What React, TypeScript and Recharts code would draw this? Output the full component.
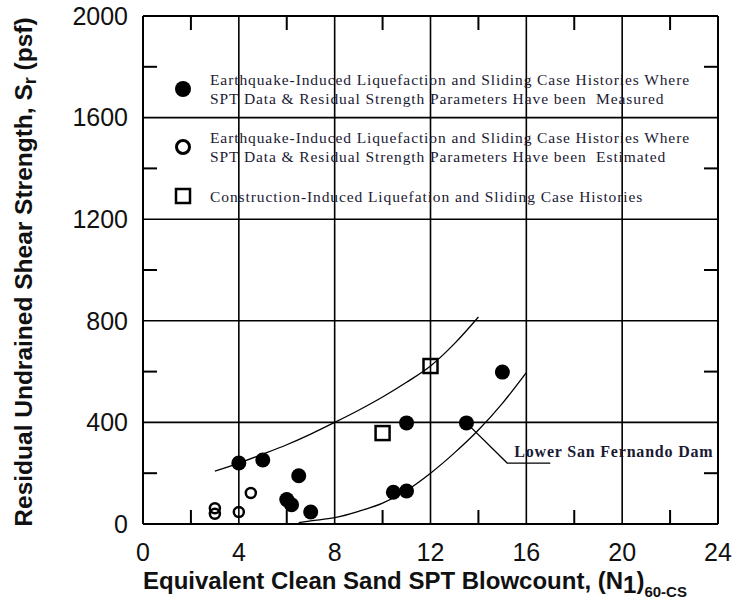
import React from 'react';
import {
  ComposedChart,
  Scatter,
  Line,
  XAxis,
  YAxis,
  Legend,
  ReferenceDot,
  ReferenceLine,
  Label,
} from 'recharts';

// (N1)60-CS blowcount vs residual strength Sr (psf)
const measured = [
  { x: 4, y: 240 },
  { x: 5, y: 252 },
  { x: 6.5, y: 190 },
  { x: 6, y: 96 },
  { x: 6.2, y: 76 },
  { x: 7, y: 47 },
  { x: 10.45, y: 125 },
  { x: 11, y: 130 },
  { x: 11, y: 398 },
  { x: 13.5, y: 398 },
  { x: 15, y: 598 },
];

const estimated = [
  { x: 3, y: 62 },
  { x: 3, y: 40 },
  { x: 4, y: 47 },
  { x: 4.5, y: 122 },
];

const construction = [
  { x: 10, y: 358 },
  { x: 12, y: 622 },
];

const upperBound = [
  { x: 3, y: 208 },
  { x: 4, y: 240 },
  { x: 5, y: 275 },
  { x: 6, y: 312 },
  { x: 7, y: 354 },
  { x: 8, y: 400 },
  { x: 9, y: 448 },
  { x: 10, y: 500 },
  { x: 11, y: 558 },
  { x: 12, y: 622 },
  { x: 13, y: 710 },
  { x: 14, y: 815 },
];

const lowerBound = [
  { x: 6.5, y: 5 },
  { x: 7, y: 12 },
  { x: 8, y: 25 },
  { x: 9, y: 50 },
  { x: 10, y: 82 },
  { x: 11, y: 132 },
  { x: 12, y: 200 },
  { x: 13, y: 280 },
  { x: 14, y: 370 },
  { x: 15, y: 475 },
  { x: 16, y: 596 },
];

const damLeader = [
  { x: 13.5, y: 398 },
  { x: 15.2, y: 240 },
  { x: 17, y: 240 },
];
const damNote = { x: 15.5, y: 262, text: 'Lower San Fernando Dam' };

const X_MIN = 0;
const X_MAX = 24;
const Y_MIN = 0;
const Y_MAX = 2000;
const majorX = [0, 4, 8, 12, 16, 20, 24];
const minorX = [2, 6, 10, 14, 18, 22];
const majorY = [0, 400, 800, 1200, 1600, 2000];
const minorY = [200, 600, 1000, 1400, 1800];

const legendItems = [
  {
    kind: 'filled',
    lines: [
      'Earthquake-Induced Liquefaction and Sliding Case Histories Where',
      'SPT Data & Residual Strength Parameters Have been  Measured',
    ],
  },
  {
    kind: 'open',
    lines: [
      'Earthquake-Induced Liquefaction and Sliding Case Histories Where',
      'SPT Data & Residual Strength Parameters Have been  Estimated',
    ],
  },
  {
    kind: 'square',
    lines: ['Construction-Induced Liquefation and Sliding Case Histories'],
  },
];

const sans = '"Liberation Sans", Arial, sans-serif';
const serif = '"Liberation Serif", "Times New Roman", serif';
const ink = '#1a1a33';

// chart box
const CHART_W = 732;
const CHART_H = 602;
const margin = { top: 16, right: 14, left: 0, bottom: 0 };
const Y_AXIS_W = 143;
const X_AXIS_H = 78;
const PLOT_W = CHART_W - Y_AXIS_W - margin.right;
const PLOT_H = CHART_H - margin.top - X_AXIS_H;

// inward tick marks, 14px long, expressed in axis units
const TICK_LEN = 14;
const TICK_DX = ((X_MAX - X_MIN) * TICK_LEN) / PLOT_W;
const TICK_DY = ((Y_MAX - Y_MIN) * TICK_LEN) / PLOT_H;
const tickStroke = { stroke: '#000', strokeWidth: 2 };

const FilledDot = (p: any) => <circle cx={p.cx} cy={p.cy} r={7.5} fill="#000" />;
const OpenDot = (p: any) => (
  <circle cx={p.cx} cy={p.cy} r={5} fill="none" stroke="#000" strokeWidth={2.5} />
);
const SquareDot = (p: any) => (
  <rect x={p.cx - 7} y={p.cy - 7} width={14} height={14} fill="none" stroke="#000" strokeWidth={2.5} />
);

const LegendMarker = ({ kind }: { kind: string }) => (
  <svg width={24} height={20} style={{ flex: 'none', marginRight: 15 }}>
    {kind === 'filled' && <circle cx={12} cy={10} r={8} fill="#000" />}
    {kind === 'open' && <circle cx={12} cy={10} r={6.5} fill="none" stroke="#000" strokeWidth={3} />}
    {kind === 'square' && <rect x={5} y={3} width={14} height={14} fill="none" stroke="#000" strokeWidth={2.5} />}
  </svg>
);

const renderLegend = () => (
  <div style={{ fontFamily: serif, fontSize: 15.5, lineHeight: '19px', color: ink, letterSpacing: 0.9 }}>
    {legendItems.map((item) => (
      <div key={item.lines[0] + item.kind} style={{ display: 'flex', alignItems: 'center', marginBottom: 20 }}>
        <LegendMarker kind={item.kind} />
        <div style={{ whiteSpace: 'pre' }}>
          {item.lines.map((l) => (
            <div key={l}>{l}</div>
          ))}
        </div>
      </div>
    ))}
  </div>
);

const YTitle = ({ viewBox }: any) => {
  const x = viewBox.x + 32;
  const y = viewBox.y + viewBox.height / 2 + 2;
  return (
    <text
      x={x}
      y={y}
      transform={`rotate(-90, ${x}, ${y})`}
      textAnchor="middle"
      fontFamily={sans}
      fontWeight="bold"
      fontSize={24.5}
      fill="#111"
    >
      Residual Undrained Shear Strength, S
      <tspan fontSize={18} dy={4}>r</tspan>
      <tspan dy={-4}> (psf)</tspan>
    </text>
  );
};

const XTitle = ({ viewBox }: any) => (
  <text x={viewBox.x} y={viewBox.y + 65} fontFamily={sans} fontWeight="bold" fontSize={24} fill="#111">
    Equivalent Clean Sand SPT Blowcount, (N
    <tspan dy={4}>1</tspan>
    <tspan dy={-4}>)</tspan>
    <tspan fontSize={15} dy={8}>60-CS</tspan>
  </text>
);

const DamText = ({ viewBox }: any) => (
  <text
    x={viewBox.x}
    y={viewBox.y}
    fontFamily={serif}
    fontWeight="bold"
    fontSize={16}
    letterSpacing={0.8}
    fill={ink}
  >
    {damNote.text}
  </text>
);

const tickStyle = { fill: '#111', fontSize: 25, fontFamily: sans };
const frame = { stroke: '#000', strokeWidth: 2 };

export default function App() {
  return (
    <div style={{ position: 'absolute', left: 0, top: 0, width: CHART_W, height: CHART_H, background: '#fff' }}>
      <ComposedChart width={CHART_W} height={CHART_H} margin={margin}>
        {majorX.slice(1).map((v) => (
          <ReferenceLine key={`gx${v}`} x={v} stroke="#000" strokeWidth={v === X_MAX ? 2 : 1.6} />
        ))}
        {majorY.slice(1).map((v) => (
          <ReferenceLine key={`gy${v}`} y={v} stroke="#000" strokeWidth={v === Y_MAX ? 2 : 1.6} />
        ))}
        {minorX.map((v) => (
          <ReferenceLine key={`tb${v}`} segment={[{ x: v, y: Y_MIN }, { x: v, y: Y_MIN + TICK_DY }]} {...tickStroke} />
        ))}
        {minorX.map((v) => (
          <ReferenceLine key={`tt${v}`} segment={[{ x: v, y: Y_MAX }, { x: v, y: Y_MAX - TICK_DY }]} {...tickStroke} />
        ))}
        {minorY.map((v) => (
          <ReferenceLine key={`tl${v}`} segment={[{ x: X_MIN, y: v }, { x: X_MIN + TICK_DX, y: v }]} {...tickStroke} />
        ))}
        {minorY.map((v) => (
          <ReferenceLine key={`tr${v}`} segment={[{ x: X_MAX, y: v }, { x: X_MAX - TICK_DX, y: v }]} {...tickStroke} />
        ))}
        <XAxis
          type="number"
          dataKey="x"
          domain={[X_MIN, X_MAX]}
          ticks={majorX}
          interval={0}
          allowDataOverflow
          height={X_AXIS_H}
          tickLine={false}
          tickSize={0}
          tickMargin={19}
          axisLine={frame}
          tick={tickStyle}
        >
          <Label content={XTitle} />
        </XAxis>
        <YAxis
          type="number"
          dataKey="y"
          domain={[Y_MIN, Y_MAX]}
          ticks={majorY}
          interval={0}
          allowDataOverflow
          width={Y_AXIS_W}
          tickLine={false}
          tickSize={0}
          tickMargin={15}
          axisLine={frame}
          tick={tickStyle}
        >
          <Label content={YTitle} />
        </YAxis>
        <Legend
          content={renderLegend}
          layout="vertical"
          align="center"
          verticalAlign="middle"
          wrapperStyle={{ left: 171, top: 70, width: 545 }}
        />
        <Line data={upperBound} dataKey="y" type="monotone" dot={false} stroke="#000" strokeWidth={1.3} isAnimationActive={false} />
        <Line data={lowerBound} dataKey="y" type="monotone" dot={false} stroke="#000" strokeWidth={1.3} isAnimationActive={false} />
        <Line data={damLeader} dataKey="y" type="linear" dot={false} stroke="#000" strokeWidth={1.3} isAnimationActive={false} />
        <Scatter data={measured} shape={FilledDot} isAnimationActive={false} />
        <Scatter data={estimated} shape={OpenDot} isAnimationActive={false} />
        <Scatter data={construction} shape={SquareDot} isAnimationActive={false} />
        <ReferenceDot x={damNote.x} y={damNote.y} r={0} fill="none" stroke="none" label={DamText} />
      </ComposedChart>
    </div>
  );
}
